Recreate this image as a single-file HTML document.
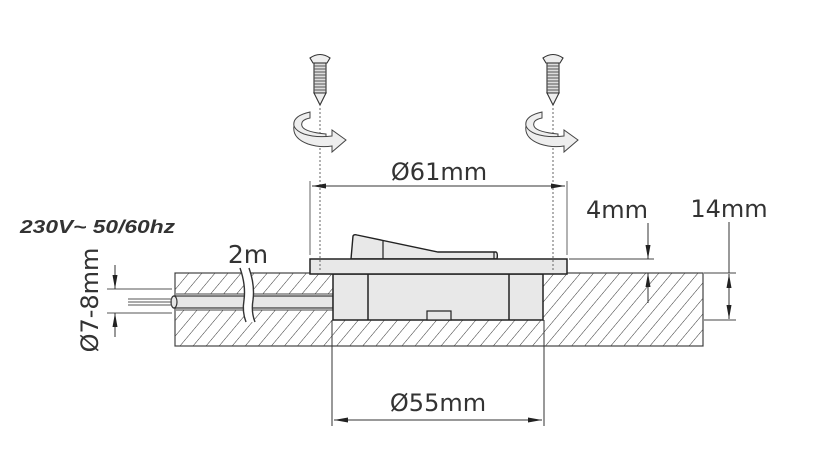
<!DOCTYPE html>
<html><head><meta charset="utf-8"><style>
html,body{margin:0;padding:0;background:#fff;}
svg{display:block}
text{font-family:"DejaVu Sans","Liberation Sans",sans-serif;fill:#333}
</style></head><body>
<svg width="823" height="449" viewBox="0 0 823 449" xmlns="http://www.w3.org/2000/svg">
<defs>
<pattern id="h" patternUnits="userSpaceOnUse" width="10" height="10" patternTransform="rotate(40)">
<line x1="0" y1="0" x2="0" y2="10" stroke="#333" stroke-width="1"/>
</pattern>
<marker id="a" markerWidth="14" markerHeight="8" refX="14" refY="4" orient="auto" markerUnits="userSpaceOnUse">
<path d="M0,1.5 L14,4 L0,6.5 Z" fill="#222"/>
</marker>
<g id="screw">
<path d="M-10,3 Q0,-4 10,3 L7,8 L-7,8 Z" fill="#eee" stroke="#333" stroke-width="1.1"/>
<rect x="-6" y="8" width="12" height="30" fill="#ddd" stroke="#333" stroke-width="1.1"/>
<path d="M-6,11h12M-6,14h12M-6,17h12M-6,20h12M-6,23h12M-6,26h12M-6,29h12M-6,32h12M-6,35h12" stroke="#555" stroke-width="0.9"/>
<path d="M-6,38 L0,50 L6,38 Z" fill="#eee" stroke="#333" stroke-width="1.1"/>
</g>
<g id="rot">
<path d="M-8,0 Q-26,4 -24,14 Q-20,26 8,28 L8,22 Q-14,20 -16,14 Q-18,8 -8,6 Z" fill="#eee" stroke="#444" stroke-width="1"/>
<path d="M-24,14 Q-26,26 -10,32 Q2,36 14,34 L14,40 L28,28 L14,18 L14,24 Q-2,26 -14,22 Q-22,19 -24,14 Z" fill="#eee" stroke="#444" stroke-width="1"/>
</g>
</defs>

<rect x="175" y="273" width="528" height="73" fill="url(#h)" stroke="#444" stroke-width="1.2"/>
<rect x="176" y="294" width="157" height="16" fill="#fff"/>
<line x1="176" y1="294" x2="333" y2="294" stroke="#444"/>
<line x1="176" y1="310" x2="333" y2="310" stroke="#444"/>
<rect x="174" y="296" width="159" height="12" fill="#e6e6e6" stroke="#333" stroke-width="1.2"/>
<ellipse cx="174" cy="302" rx="3" ry="6" fill="#e6e6e6" stroke="#333" stroke-width="1.2"/>
<path d="M128,299h44M128,302h44M128,305h44" stroke="#555" stroke-width="0.9"/>
<path d="M240,268 Q246,285 244,300 Q242,312 246,322 L255,322 Q251,312 253,300 Q255,285 249,268 Z" fill="#fff"/>
<path d="M240,268 Q246,285 244,300 Q242,312 246,322" fill="none" stroke="#333" stroke-width="1.4"/>
<path d="M249,268 Q255,285 253,300 Q251,312 255,322" fill="none" stroke="#333" stroke-width="1.4"/>
<rect x="333" y="274" width="210" height="46" fill="#e8e8e8" stroke="#222" stroke-width="1.5"/>
<line x1="368" y1="274" x2="368" y2="320" stroke="#222" stroke-width="1.5"/>
<line x1="509" y1="274" x2="509" y2="320" stroke="#222" stroke-width="1.5"/>
<rect x="427" y="311" width="24" height="9" fill="#e8e8e8" stroke="#222" stroke-width="1.2"/>
<path d="M351,259 L353,236 Q354,234 357,235 L438,252 L496,252 Q498,253 497,259 Z" fill="#e8e8e8" stroke="#222" stroke-width="1.4"/>
<line x1="383" y1="240" x2="383" y2="259" stroke="#222" stroke-width="1.2"/>
<line x1="494" y1="252" x2="494" y2="259" stroke="#222" stroke-width="1.2"/>
<rect x="310" y="259" width="257" height="15" fill="#e8e8e8" stroke="#222" stroke-width="1.5"/>

<line x1="320" y1="108" x2="320" y2="272" stroke="#666" stroke-dasharray="2,2"/>
<line x1="553" y1="108" x2="553" y2="272" stroke="#666" stroke-dasharray="2,2"/>
<use href="#screw" x="320" y="55"/>
<use href="#screw" x="553" y="55"/>
<use href="#rot" x="318" y="112"/>
<use href="#rot" x="550" y="112"/>

<line x1="310" y1="181" x2="310" y2="255" stroke="#666"/>
<line x1="567" y1="181" x2="567" y2="255" stroke="#666"/>
<line x1="438" y1="186" x2="312" y2="186" stroke="#333" marker-end="url(#a)"/>
<line x1="438" y1="186" x2="565" y2="186" stroke="#333" marker-end="url(#a)"/>
<text x="439" y="180" font-size="24" text-anchor="middle">Ø61mm</text>

<line x1="332" y1="320" x2="332" y2="426" stroke="#333"/>
<line x1="544" y1="320" x2="544" y2="426" stroke="#333"/>
<line x1="438" y1="420" x2="334" y2="420" stroke="#333" marker-end="url(#a)"/>
<line x1="438" y1="420" x2="542" y2="420" stroke="#333" marker-end="url(#a)"/>
<text x="438" y="411" font-size="24" text-anchor="middle">Ø55mm</text>

<line x1="569" y1="259" x2="654" y2="259" stroke="#444"/>
<line x1="648" y1="223" x2="648" y2="259" stroke="#333" marker-end="url(#a)"/>
<line x1="648" y1="303" x2="648" y2="273" stroke="#333" marker-end="url(#a)"/>
<text x="617" y="218" font-size="24" text-anchor="middle">4mm</text>

<line x1="704" y1="273" x2="736" y2="273" stroke="#444"/>
<line x1="704" y1="320" x2="736" y2="320" stroke="#444"/>
<line x1="729" y1="222" x2="729" y2="273" stroke="#333"/>
<line x1="729" y1="296" x2="729" y2="274" stroke="#333" marker-end="url(#a)"/>
<line x1="729" y1="296" x2="729" y2="319" stroke="#333" marker-end="url(#a)"/>
<text x="729" y="217" font-size="24" text-anchor="middle">14mm</text>

<line x1="107" y1="289" x2="172" y2="289" stroke="#555"/>
<line x1="107" y1="313" x2="172" y2="313" stroke="#555"/>
<line x1="115" y1="265" x2="115" y2="289" stroke="#333" marker-end="url(#a)"/>
<line x1="115" y1="337" x2="115" y2="313" stroke="#333" marker-end="url(#a)"/>
<text transform="translate(98,300) rotate(-90)" font-size="24" text-anchor="middle">Ø7-8mm</text>

<text x="248" y="263" font-size="25" text-anchor="middle">2m</text>

<text x="20" y="233" font-size="18" font-weight="bold" font-style="italic" style="font-family:'Liberation Sans',sans-serif" textLength="155" lengthAdjust="spacingAndGlyphs">230V~ 50/60hz</text>
</svg>
</body></html>
